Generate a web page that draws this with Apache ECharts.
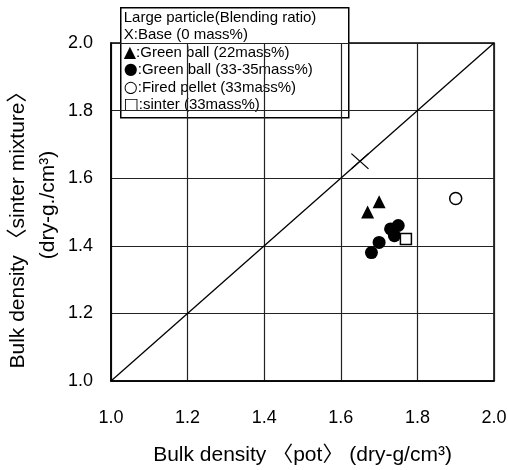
<!DOCTYPE html>
<html>
<head>
<meta charset="utf-8">
<script src="https://cdn.jsdelivr.net/npm/echarts@6/dist/echarts.min.js"></script>
<style>
  html, body { margin: 0; padding: 0; background: #fff; }
  #chart { width: 508px; height: 470px; }
</style>
</head>
<body>
<div id="chart"></div>
<script>
// tick labels for both axes
const tickLabels = ['1.0', '1.2', '1.4', '1.6', '1.8', '2.0']

// [pot bulk density, sinter mixture bulk density]
const baseData = [[1.65, 1.65]]
const greenBall22 = [[1.67, 1.50], [1.70, 1.53]]
const greenBall33 = [[1.68, 1.38], [1.70, 1.41], [1.73, 1.45], [1.74, 1.43], [1.75, 1.46]]
const firedPellet = [[1.90, 1.54]]
const sinter33 = [[1.77, 1.42]]
const equalLine = [[1.0, 1.0], [2.0, 2.0]]

const legendTitle = 'Large particle(Blending ratio)'
const legendSymbols = ['X', '▲', '●', '○', '□']
const legendNames = [
  'Base (0 mass%)',
  'Green ball (22mass%)',
  'Green ball (33-35mass%)',
  'Fired pellet (33mass%)',
  'sinter (33mass%)'
]

const FONT = "'Liberation Sans', Arial, 'Noto Sans CJK JP', sans-serif"
const SYM_FONT = "'DejaVu Sans', sans-serif"

const chart = echarts.init(document.getElementById('chart'))

const axisCommon = {
  type: 'value',
  min: 1.0,
  max: 2.0,
  interval: 0.2,
  axisLine: { show: true, lineStyle: { color: '#000', width: 1.5 } },
  axisTick: { show: false },
  splitLine: { show: true, lineStyle: { color: '#222', width: 1.2 } },
  axisLabel: {
    color: '#000',
    fontSize: 18,
    fontFamily: FONT,
    formatter: v => tickLabels[Math.round((v - 1) / 0.2)]
  }
}

// filled X glyph so both strokes render evenly
const xPath = 'path://M0,5L5,0L50,45L95,0L100,5L55,50L100,95L95,100L50,55L5,100L0,95L45,50Z'

const option = {
  backgroundColor: '#fff',
  animation: false,
  grid: {
    left: 111, right: 14, top: 43, bottom: 89,
    outerBoundsMode: 'none',
    containLabel: false,
    show: true, borderColor: '#000', borderWidth: 1.5
  },
  xAxis: {
    ...axisCommon,
    axisLabel: { ...axisCommon.axisLabel, margin: 28 },
    name: 'Bulk density 〈pot〉 (dry-g/cm³)',
    nameLocation: 'middle',
    nameGap: 64,
    nameTextStyle: { color: '#000', fontSize: 21, fontFamily: FONT }
  },
  yAxis: {
    ...axisCommon,
    axisLabel: { ...axisCommon.axisLabel, margin: 18 }
  },
  graphic: [
    {
      type: 'text', x: 18, y: 225, rotation: Math.PI / 2,
      style: {
        text: 'Bulk density 〈sinter mixture〉',
        fill: '#000', font: '21px ' + FONT,
        align: 'center', verticalAlign: 'middle'
      }
    },
    {
      type: 'text', x: 48, y: 205, rotation: Math.PI / 2,
      style: {
        text: '(dry-g./cm³)',
        fill: '#000', font: '21px ' + FONT,
        align: 'center', verticalAlign: 'middle'
      }
    },
    {
      type: 'group', left: 120, top: 7, z: 100,
      children: [
        {
          type: 'rect', shape: { x: 0, y: 0, width: 228, height: 110 },
          style: { fill: '#fff', stroke: '#000', lineWidth: 1.5 }
        },
        {
          type: 'text', x: 3, y: 10,
          style: { text: legendTitle, fill: '#000', font: '15px ' + FONT, verticalAlign: 'middle' }
        },
        ...legendNames.map((t, i) => ({
          type: 'text', x: 3, y: 27.5 + i * 17.4,
          style: {
            text: '{s|' + legendSymbols[i] + '}:' + t,
            fill: '#000', font: '15px ' + FONT,
            verticalAlign: 'middle',
            rich: {
              s: i === 0
                ? { fontSize: 15, fontFamily: FONT, fill: '#000' }
                : { fontSize: 16, fontFamily: SYM_FONT, fill: '#000' }
            }
          }
        }))
      ]
    }
  ],
  series: [
    {
      name: 'y = x', type: 'line', data: equalLine, symbol: 'none',
      lineStyle: { color: '#000', width: 1.3 }, z: 3
    },
    {
      name: 'Base (0 mass%)', type: 'scatter', data: baseData,
      symbol: xPath, symbolSize: [18, 16],
      itemStyle: { color: '#000', opacity: 1 }
    },
    {
      name: 'Green ball (22mass%)', type: 'scatter', data: greenBall22,
      symbol: 'triangle', symbolSize: 13,
      itemStyle: { color: '#000', opacity: 1 }
    },
    {
      name: 'Green ball (33-35mass%)', type: 'scatter', data: greenBall33,
      symbol: 'circle', symbolSize: 13,
      itemStyle: { color: '#000', opacity: 1 }
    },
    {
      name: 'Fired pellet (33mass%)', type: 'scatter', data: firedPellet,
      symbol: 'circle', symbolSize: 12,
      itemStyle: { color: '#fff', borderColor: '#000', borderWidth: 1.5, opacity: 1 }
    },
    {
      name: 'sinter (33mass%)', type: 'scatter', data: sinter33,
      symbol: 'rect', symbolSize: 11,
      itemStyle: { color: '#fff', borderColor: '#000', borderWidth: 1.5, opacity: 1 }
    }
  ]
}

chart.setOption(option)
</script>
</body>
</html>
